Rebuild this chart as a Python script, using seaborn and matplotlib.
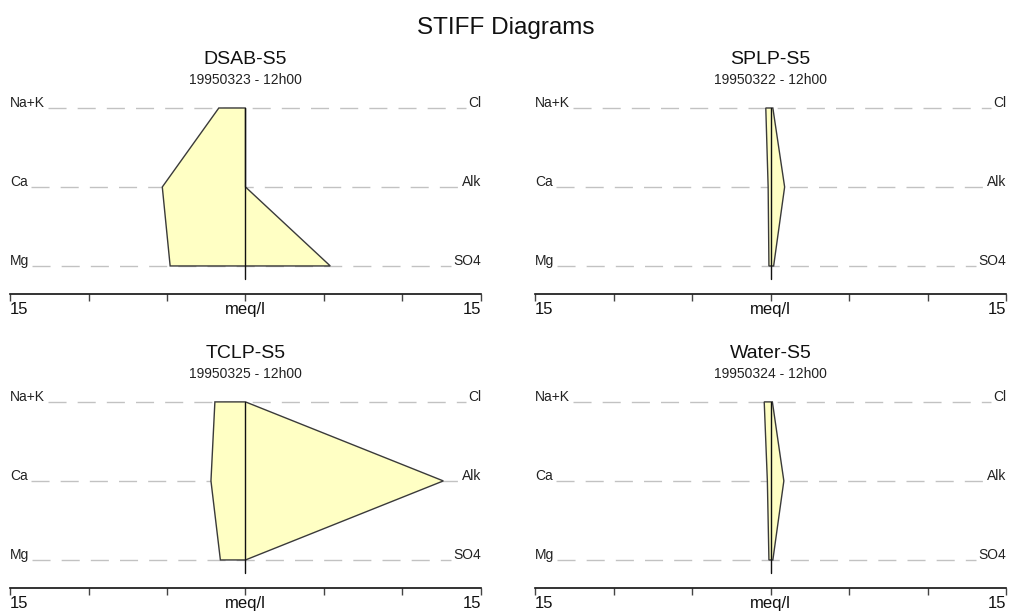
import numpy as np
import pandas as pd
import matplotlib
matplotlib.use("Agg")
import matplotlib.pyplot as plt
import seaborn as sns

# ---- data ----
samples = ["DSAB-S5", "SPLP-S5", "TCLP-S5", "Water-S5"]
dates = ["19950323 - 12h00", "19950322 - 12h00", "19950325 - 12h00", "19950324 - 12h00"]
cations = ["Na+K", "Ca", "Mg"]
anions = ["Cl", "Alk", "SO4"]
# meq/l values (cations plotted left, anions right)
nak = [1.7, 0.3, 1.95, 0.4]
ca = [5.3, 0.15, 2.2, 0.2]
mg = [4.8, 0.1, 1.6, 0.1]
cl = [0.0, 0.15, 0.0, 0.12]
alk = [0.0, 0.9, 12.6, 0.85]
so4 = [5.4, 0.2, 0.0, 0.15]
scale_max = 15

sns.set_theme(style="white")
plt.rcParams['font.family'] = ['Liberation Sans', 'DejaVu Sans']

W, H = 1011, 615
fig = plt.figure(figsize=(W / 100, H / 100), dpi=100)

# panel geometry in pixels: (left, right, top-line y, bottom axis y)
panels_px = [
    (10, 481, 108, 294),
    (535, 1006, 108, 294),
    (10, 481, 402, 588),
    (535, 1006, 402, 588),
]

fill_color = "#FFFFC4"
edge_color = "#3a3a3a"
dash_color = "#c2c2c2"

fig.text(506 / W, 1 - 28 / H, "STIFF Diagrams", ha="center", va="center", fontsize=17.5, color="#111111")

levels = [2, 1, 0]  # y positions of Na+K/Cl, Ca/Alk, Mg/SO4
ylow = -0.355
yhigh = 2.2

axes = []
for i, (l, r, ytop, ybot) in enumerate(panels_px):
    unit = (266 - 108) / 2.0 if i < 2 else (561 - 402) / 2.0
    ax_top_px = ytop - (yhigh - 2) * unit
    ax = fig.add_axes([l / W, 1 - ybot / H, (r - l) / W, (ybot - ax_top_px) / H])
    axes.append(ax)
    ax.set_xlim(-scale_max, scale_max)
    ax.set_ylim(ylow, yhigh)
    sns.despine(ax=ax, left=True, top=True, right=True)
    ax.spines['bottom'].set_color("#111111")
    ax.spines['bottom'].set_linewidth(1.2)
    ax.set_yticks([])
    ticks = [-15, -10, -5, 0, 5, 10, 15]
    ax.set_xticks(ticks)
    ax.set_xticklabels(["15", "", "", "meq/l", "", "", "15"])
    ax.tick_params(axis="x", direction="out", length=5, width=1, color="#444444",
                   labelsize=12, pad=1, bottom=True, labelcolor="#111111")
    lbls = ax.get_xticklabels()
    lbls[0].set_ha("left")
    lbls[-1].set_ha("right")
    ax.patch.set_alpha(0)

    cx = (l + r) / 2 / W
    fig.text(cx, 1 - (ytop - 48) / H, samples[i], ha="center", va="center", fontsize=14, color="#111111")
    fig.text(cx, 1 - (ytop - 28) / H, dates[i], ha="center", va="center", fontsize=10, color="#222222")

    for lab, y in zip(cations, levels):
        ax.text(-scale_max, y + 0.015, lab, ha="left", va="baseline", fontsize=10, color="#222222")
    for lab, y in zip(anions, levels):
        ax.text(scale_max, y + 0.015, lab, ha="right", va="baseline", fontsize=10, color="#222222")

fig.canvas.draw()
renderer = fig.canvas.get_renderer()

for i, ax in enumerate(axes):
    inv = ax.transData.inverted()
    texts = ax.texts
    for k, y in enumerate(levels):
        bl = texts[k].get_window_extent(renderer)
        br = texts[3 + k].get_window_extent(renderer)
        x0 = inv.transform((bl.x1 + 3, 0))[0]
        x1 = inv.transform((br.x0 - 2, 0))[0]
        guide = pd.DataFrame({"x": [x0, x1], "y": [y, y]})
        sns.lineplot(data=guide, x="x", y="y", ax=ax, color=dash_color, lw=1.0,
                     linestyle=(0, (13, 8)), zorder=1, estimator=None, sort=False)

    xs = [-nak[i], -ca[i], -mg[i], so4[i], alk[i], cl[i]]
    ys = [2, 1, 0, 0, 1, 2]
    ax.fill(xs, ys, facecolor=fill_color, edgecolor=edge_color, lw=1.0, zorder=2)
    center = pd.DataFrame({"x": [0, 0], "y": [2, -0.165]})
    sns.lineplot(data=center, x="x", y="y", ax=ax, color="#111111", lw=1.0, zorder=3,
                 estimator=None, sort=False)
    ax.set_xlabel("")
    ax.set_ylabel("")

fig.savefig("out.png", dpi=100)
